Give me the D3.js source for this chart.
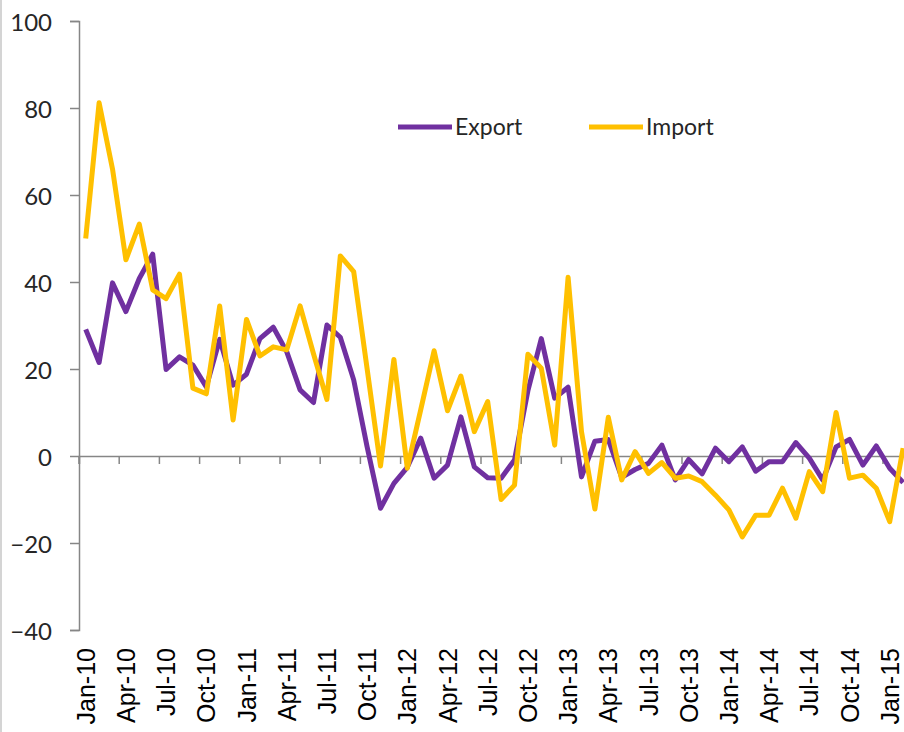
<!DOCTYPE html>
<html>
<head>
<meta charset="utf-8">
<script src="https://cdn.jsdelivr.net/npm/d3@7"></script>
<style>
  body { margin: 0; background: #fff; }
  svg { display: block; }
</style>
</head>
<body>
<div id="chart"></div>
<script>
// Monthly growth (%), Jan-10 .. Feb-15
const monthNames = ['Jan', 'Feb', 'Mar', 'Apr', 'May', 'Jun', 'Jul', 'Aug', 'Sep', 'Oct', 'Nov', 'Dec'];
const months = [];
for (let y = 10; y <= 15; y++) {
  monthNames.forEach(m => months.push(`${m}-${y}`));
}
months.splice(62); // stops at Feb-15

const exportValues = [
  29.1, 21.5, 39.8, 33.2, 40.8, 46.4, 19.9, 22.8, 20.9, 15.9, 26.8, 16.3,
  18.8, 27.0, 29.6, 24.0, 15.2, 12.3, 30.1, 27.3, 17.5, 2.1, -12.0, -6.3,
  -2.6, 4.1, -5.1, -2.1, 9.0, -2.5, -5.0, -5.1, -0.9, 15.0, 27.0, 13.3,
  15.8, -4.8, 3.4, 3.8, -4.9, -3.1, -1.7, 2.5, -5.5, -0.8, -4.1, 1.8,
  -1.3, 2.1, -3.5, -1.3, -1.3, 3.1, -0.5, -5.5, 2.1, 3.8, -2.1, 2.3,
  -2.8, -6.1
];

const importValues = [
  50.0, 81.2, 66.0, 45.1, 53.3, 38.2, 36.2, 41.8, 15.6, 14.3, 34.5, 8.3,
  31.4, 23.0, 25.1, 24.4, 34.5, 23.5, 13.0, 46.0, 42.4, 20.1, -2.3, 22.2,
  -2.8, 10.6, 24.2, 10.4, 18.4, 5.6, 12.5, -10.0, -6.7, 23.4, 20.2, 2.5,
  41.1, 5.6, -12.2, 8.9, -5.5, 1.0, -4.0, -1.5, -5.1, -4.6, -5.9, -9.0,
  -12.4, -18.6, -13.6, -13.6, -7.4, -14.3, -3.6, -8.2, 10.0, -5.1, -4.4, -7.4,
  -15.1, 1.8
];

const yTicks = [-40, -20, 0, 20, 40, 60, 80, 100];
const labelMonths = months.filter((m, i) => i % 3 === 0);

const series = [
  { name: 'Export', values: exportValues, color: '#7030a0' },
  { name: 'Import', values: importValues, color: '#ffc000' }
];

const W = 904, H = 732;
const axisColor = '#868686';
const textColor = '#262626';

const svg = d3.select('#chart')
  .append('svg')
  .attr('width', W)
  .attr('height', H);

// chart border on the left
svg.append('line')
  .attr('x1', 1).attr('x2', 1)
  .attr('y1', 0).attr('y2', H)
  .attr('stroke', '#d4d4d4')
  .attr('stroke-width', 2);

const x = d3.scaleBand()
  .domain(months)
  .range([79, 79 + months.length * 13.4])
  .padding(0);

const y = d3.scaleLinear()
  .domain([-40, 100])
  .range([630, 21]);

const xc = m => x(m) + x.bandwidth() / 2;

// y axis
const yAxis = svg.append('g')
  .attr('transform', 'translate(79,0)')
  .call(d3.axisLeft(y).tickValues(yTicks).tickSize(9).tickPadding(18));

yAxis.select('.domain').attr('stroke', axisColor).attr('stroke-width', 1.5);
yAxis.selectAll('.tick line').attr('stroke', axisColor).attr('stroke-width', 1.5);
yAxis.selectAll('.tick text')
  .attr('fill', textColor)
  .attr('dy', '0.4em')
  .style('font-family', 'Lato, "Open Sans", sans-serif')
  .style('font-size', '24px');

// horizontal axis on zero, ticks on quarter boundaries
const xAxis = svg.append('g')
  .attr('transform', `translate(0,${y(0)})`)
  .call(d3.axisBottom(x).tickValues(labelMonths).tickSize(8).tickFormat(''));

xAxis.select('.domain').attr('stroke', axisColor).attr('stroke-width', 1.5);
xAxis.selectAll('.tick')
  .attr('transform', d => `translate(${x(d)},0)`);
xAxis.selectAll('.tick line').attr('stroke', axisColor).attr('stroke-width', 1.5);

// category labels below the plot
svg.append('g')
  .selectAll('text')
  .data(labelMonths)
  .enter()
  .append('text')
  .attr('transform', d => `translate(${xc(d)},648) rotate(-90)`)
  .attr('text-anchor', 'end')
  .attr('dy', '0.36em')
  .attr('fill', '#000')
  .style('font-family', '"Liberation Sans", Arial, sans-serif')
  .style('font-size', '25px')
  .text(d => d);

// lines
const line = d3.line()
  .x((d, i) => xc(months[i]))
  .y(d => y(d));

svg.append('g')
  .selectAll('path')
  .data(series)
  .enter()
  .append('path')
  .attr('d', d => line(d.values))
  .attr('fill', 'none')
  .attr('stroke', d => d.color)
  .attr('stroke-width', 5)
  .attr('stroke-linejoin', 'round');

// legend
const legend = svg.append('g')
  .selectAll('g')
  .data(series)
  .enter()
  .append('g')
  .attr('transform', (d, i) => `translate(${398 + i * 191},127)`);

legend.append('line')
  .attr('x1', 0).attr('x2', 54)
  .attr('stroke', d => d.color)
  .attr('stroke-width', 5);

legend.append('text')
  .attr('x', 57)
  .attr('dy', '0.36em')
  .attr('fill', textColor)
  .style('font-family', 'Lato, "Open Sans", sans-serif')
  .style('font-size', '23px')
  .text(d => d.name);
</script>
</body>
</html>
